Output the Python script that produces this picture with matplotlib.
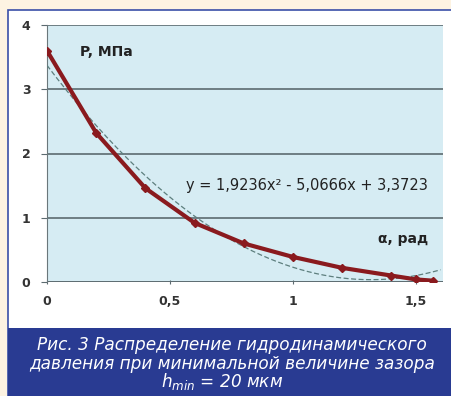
import numpy as np
import matplotlib.pyplot as plt
from matplotlib.patches import Rectangle

# data
alpha = [0.0, 0.2, 0.4, 0.6, 0.8, 1.0, 1.2, 1.4, 1.5, 1.57]
pressure = [3.6, 2.32, 1.46, 0.92, 0.6, 0.39, 0.22, 0.1, 0.04, 0.02]
fit_coef = [1.9236, -5.0666, 3.3723]   # trendline from the chart
x_ticks = [0, 0.5, 1, 1.5]
x_labels = ["0", "0,5", "1", "1,5"]
y_ticks = [0, 1, 2, 3, 4]

W, H = 452, 396
fig = plt.figure(figsize=(W / 100, H / 100), dpi=100)
fig.patch.set_facecolor("#FDF3E2")

# white panel with blue border
fig.patches.append(Rectangle((8 / W, 0), 1, 1 - 10 / H, transform=fig.transFigure,
                             facecolor="white", edgecolor="#3A4FA8", lw=1.2, zorder=-2))
# caption box
fig.patches.append(Rectangle((8 / W, 0), 1, 68 / H, transform=fig.transFigure,
                             facecolor="#293B92", edgecolor="none", zorder=-1))

ax = fig.add_axes([47 / W, 1 - 282 / H, (443 - 47) / W, (282 - 25) / H])
ax.set_zorder(2)
ax.set_facecolor("#D6ECF3")

xs = np.linspace(0, 1.6, 200)
ax.plot(xs, np.polyval(fit_coef, xs), ls=(0, (4, 2)), lw=0.9, color="#5E7F7E", zorder=3)
ax.plot(alpha, pressure, color="#8A1A1E", lw=3, marker="D", ms=4, zorder=4)

ax.set_xlim(0, 1.61)
ax.set_ylim(0, 4)
ax.set_xticks(x_ticks)
ax.set_xticklabels(x_labels)
ax.set_yticks(y_ticks)
ax.grid(axis="y", color="#5C6B70", lw=1.2)
ax.set_axisbelow(True)
for s in ["top", "right", "bottom"]:
    ax.spines[s].set_visible(False)
ax.spines["left"].set_color("#6A777B")
ax.axhline(0, color="#5C6B70", lw=1.2, zorder=2)
ax.tick_params(axis="y", length=4, color="#5C6B70", labelsize=9, labelcolor="#333333", pad=8)
ax.tick_params(axis="x", length=3, direction="inout", color="#5C6B70", labelsize=9,
               labelcolor="#333333", pad=8)
for lab in ax.get_xticklabels() + ax.get_yticklabels():
    lab.set_fontweight("bold")

ax.text(0.083, 0.895, "P, МПа", transform=ax.transAxes, fontsize=10, fontweight="bold",
        color="#222222", va="center")
ax.text(0.962, 0.167, "α, рад", transform=ax.transAxes, fontsize=10, fontweight="bold",
        color="#222222", ha="right", va="center")
ax.text(0.962, 0.374, "y = 1,9236x² - 5,0666x + 3,3723", transform=ax.transAxes,
        fontsize=10.5, color="#222222", ha="right", va="center")

cap = dict(color="white", fontsize=12.2, style="italic", ha="center", va="center",
           family="DejaVu Sans")
fig.text(232 / W, 1 - 345 / H, "Рис. 3 Распределение гидродинамического", **cap)
fig.text(232 / W, 1 - 364 / H, "давления при минимальной величине зазора", **cap)
fig.text(222 / W, 1 - 382 / H, "$h_{min}$ = 20 мкм", **cap)

fig.savefig("out.png", dpi=100, facecolor=fig.get_facecolor())
